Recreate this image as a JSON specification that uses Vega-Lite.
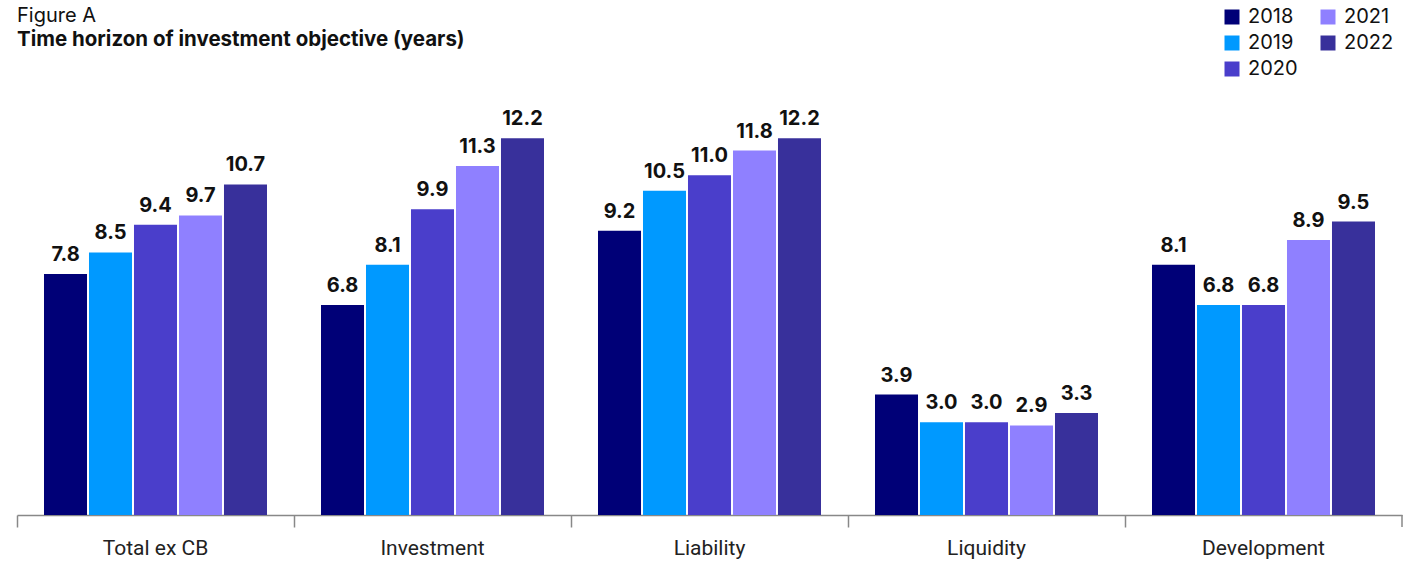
{
  "$schema": "https://vega.github.io/schema/vega-lite/v6.json",
  "width": 1385,
  "height": 417,
  "autosize": {"type": "none"},
  "padding": {"left": 17, "top": 98, "right": 12, "bottom": 51},
  "background": "white",
  "title": {
    "text": "Figure A",
    "subtitle": "Time horizon of investment objective (years)",
    "anchor": "start",
    "frame": "group",
    "offset": -43,
    "font": "Inter",
    "fontSize": 20,
    "fontWeight": "normal",
    "color": "#111",
    "subtitleFont": "Inter",
    "subtitleFontSize": 20.5,
    "subtitleFontWeight": "bold",
    "subtitleColor": "#111",
    "subtitlePadding": 4
  },
  "config": {"view": {"stroke": null}},
  "datasets": {
    "bars": [
      {"cat": "Total ex CB", "year": "2018", "value": 7.8},
      {"cat": "Total ex CB", "year": "2019", "value": 8.5},
      {"cat": "Total ex CB", "year": "2020", "value": 9.4},
      {"cat": "Total ex CB", "year": "2021", "value": 9.7},
      {"cat": "Total ex CB", "year": "2022", "value": 10.7},
      {"cat": "Investment", "year": "2018", "value": 6.8},
      {"cat": "Investment", "year": "2019", "value": 8.1},
      {"cat": "Investment", "year": "2020", "value": 9.9},
      {"cat": "Investment", "year": "2021", "value": 11.3},
      {"cat": "Investment", "year": "2022", "value": 12.2},
      {"cat": "Liability", "year": "2018", "value": 9.2},
      {"cat": "Liability", "year": "2019", "value": 10.5},
      {"cat": "Liability", "year": "2020", "value": 11.0},
      {"cat": "Liability", "year": "2021", "value": 11.8},
      {"cat": "Liability", "year": "2022", "value": 12.2},
      {"cat": "Liquidity", "year": "2018", "value": 3.9},
      {"cat": "Liquidity", "year": "2019", "value": 3.0},
      {"cat": "Liquidity", "year": "2020", "value": 3.0},
      {"cat": "Liquidity", "year": "2021", "value": 2.9},
      {"cat": "Liquidity", "year": "2022", "value": 3.3},
      {"cat": "Development", "year": "2018", "value": 8.1},
      {"cat": "Development", "year": "2019", "value": 6.8},
      {"cat": "Development", "year": "2020", "value": 6.8},
      {"cat": "Development", "year": "2021", "value": 8.9},
      {"cat": "Development", "year": "2022", "value": 9.5}
    ],
    "endtick": [{"cat": "Development"}]
  },
  "layer": [
    {
      "data": {"name": "bars"},
      "mark": {"type": "bar"},
      "encoding": {
        "x": {
          "field": "cat", "type": "nominal", "sort": null,
          "scale": {"paddingInner": 0, "paddingOuter": 0},
          "axis": {
            "title": null, "bandPosition": 0, "labelAngle": 0,
            "domainColor": "#888", "domainWidth": 1.5,
            "tickColor": "#888", "tickWidth": 1.5, "tickSize": 12,
            "labelFont": "Roboto", "labelFontSize": 21, "labelColor": "#222",
            "labelPadding": 10, "grid": false
          }
        },
        "xOffset": {
          "field": "year", "type": "nominal", "sort": ["2018", "2019", "2020", "2021", "2022"],
          "scale": {"paddingInner": 0.044, "paddingOuter": 0.6}
        },
        "y": {
          "field": "value", "type": "quantitative",
          "scale": {"domain": [0, 13.5], "nice": false},
          "axis": null
        },
        "color": {
          "field": "year", "type": "nominal",
          "scale": {
            "domain": ["2018", "2019", "2020", "2021", "2022"],
            "range": ["#000077", "#0099FF", "#4A3ECB", "#8F80FF", "#38309B"]
          },
          "legend": {
            "title": null, "orient": "none", "legendX": 1205, "legendY": -91,
            "columns": 2, "symbolType": "square", "symbolSize": 225,
            "symbolStrokeWidth": 0, "labelFont": "Inter", "labelFontSize": 20,
            "labelColor": "#111", "rowPadding": 6, "columnPadding": 20,
            "labelOffset": 6
          }
        }
      }
    },
    {
      "data": {"name": "bars"},
      "mark": {"type": "text", "dy": -9, "baseline": "bottom", "font": "Inter", "fontSize": 20, "fontWeight": "bold", "color": "#111"},
      "encoding": {
        "x": {"field": "cat", "type": "nominal", "sort": null},
        "xOffset": {"field": "year", "type": "nominal", "sort": ["2018", "2019", "2020", "2021", "2022"]},
        "y": {"field": "value", "type": "quantitative"},
        "text": {"field": "value", "type": "quantitative", "format": ".1f"}
      }
    },
    {
      "data": {"name": "endtick"},
      "mark": {"type": "rule", "color": "#888", "strokeWidth": 1.5, "clip": false},
      "encoding": {
        "x": {"field": "cat", "type": "nominal", "sort": null, "bandPosition": 1},
        "y": {"datum": 0},
        "y2": {"datum": -0.39}
      }
    }
  ]
}
